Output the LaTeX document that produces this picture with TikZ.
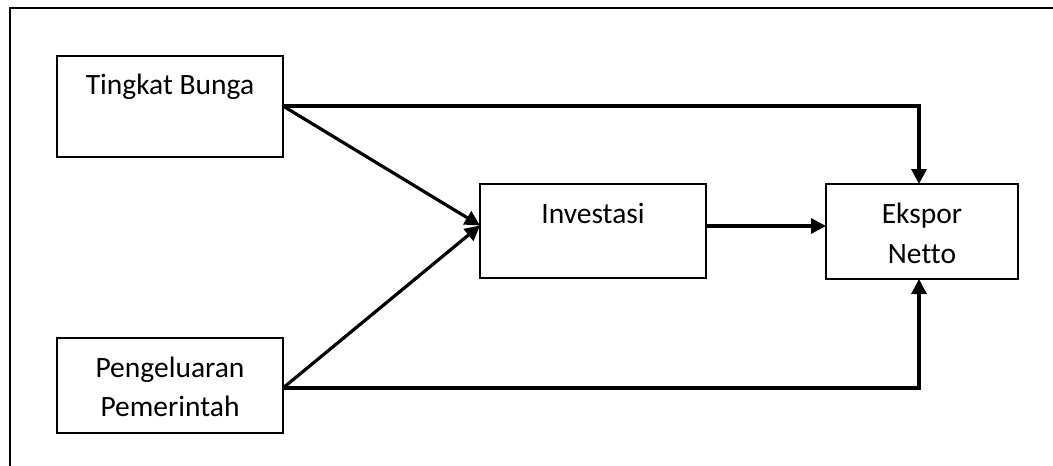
\documentclass[tikz,border=0pt]{standalone}
\usepackage{fontspec}
\setmainfont{Carlito}[Ligatures=NoCommon]
\usetikzlibrary{arrows.meta,calc}
\begin{document}
\begin{tikzpicture}[x=1pt,y=-1pt,
  box/.style={draw,line width=1.4pt,rectangle,inner sep=0pt,outer sep=0pt},
  lbl/.style={font=\fontsize{29.5}{40}\selectfont,align=center,inner sep=0pt,anchor=base},
  arr/.style={line width=3.2pt,-{Triangle[length=15pt,width=15pt]}}]
  \useasboundingbox (0,0) rectangle (1053,466);
  \clip (0,0) rectangle (1053,466);
  % outer frame, running off the page on the right and at the bottom
  \draw[line width=2pt] (10,480) -- (10,8) -- (1070,8);

  % boxes
  \node[box,minimum width=226,minimum height=101] (tb)  at (170,106.5) {};
  \node[box,minimum width=226,minimum height=95]  (pp)  at (170,385.5) {};
  \node[box,minimum width=226,minimum height=94]  (inv) at (593,231) {};
  \node[box,minimum width=192,minimum height=95]  (ek)  at (922,231.5) {};

  % labels
  \node[lbl] (tbT)  at ($(tb.north)+(0,38)$)  {Tingkat Bunga};
  \node[lbl] (ppT1) at ($(pp.north)+(0,39)$)  {Pengeluaran};
  \node[lbl] (ppT2) at ($(pp.north)+(0,78)$)  {Pemerintah};
  \node[lbl] (invT) at ($(inv.north)+(0,39)$) {Investasi};
  \node[lbl] (ekT1) at ($(ek.north)+(0,39)$)  {Ekspor};
  \node[lbl] (ekT2) at ($(ek.north)+(0,79)$)  {Netto};

  % connection points
  \coordinate (tbOut) at ($(tb.east)+(0,-0.5)$);
  \coordinate (ppOut) at ($(pp.east)+(0,2.5)$);
  \coordinate (invIn) at ($(inv.west)+(0,-5.5)$);
  \coordinate (invOut) at ($(inv.east)+(0,-5)$);
  \coordinate (ekIn) at (ek.west |- invOut);
  \coordinate (ekTop) at ($(ek.north)+(-3,0)$);
  \coordinate (ekBot) at ($(ek.south)+(-3,0)$);

  % connectors
  \draw[arr] (tbOut) -| (ekTop);
  \draw[arr] (tbOut) -- (invIn);
  \draw[arr] (ppOut) -- (invIn);
  \draw[arr] (ppOut) -| (ekBot);
  \draw[arr] (invOut) -- (ekIn);
\end{tikzpicture}
\end{document}
